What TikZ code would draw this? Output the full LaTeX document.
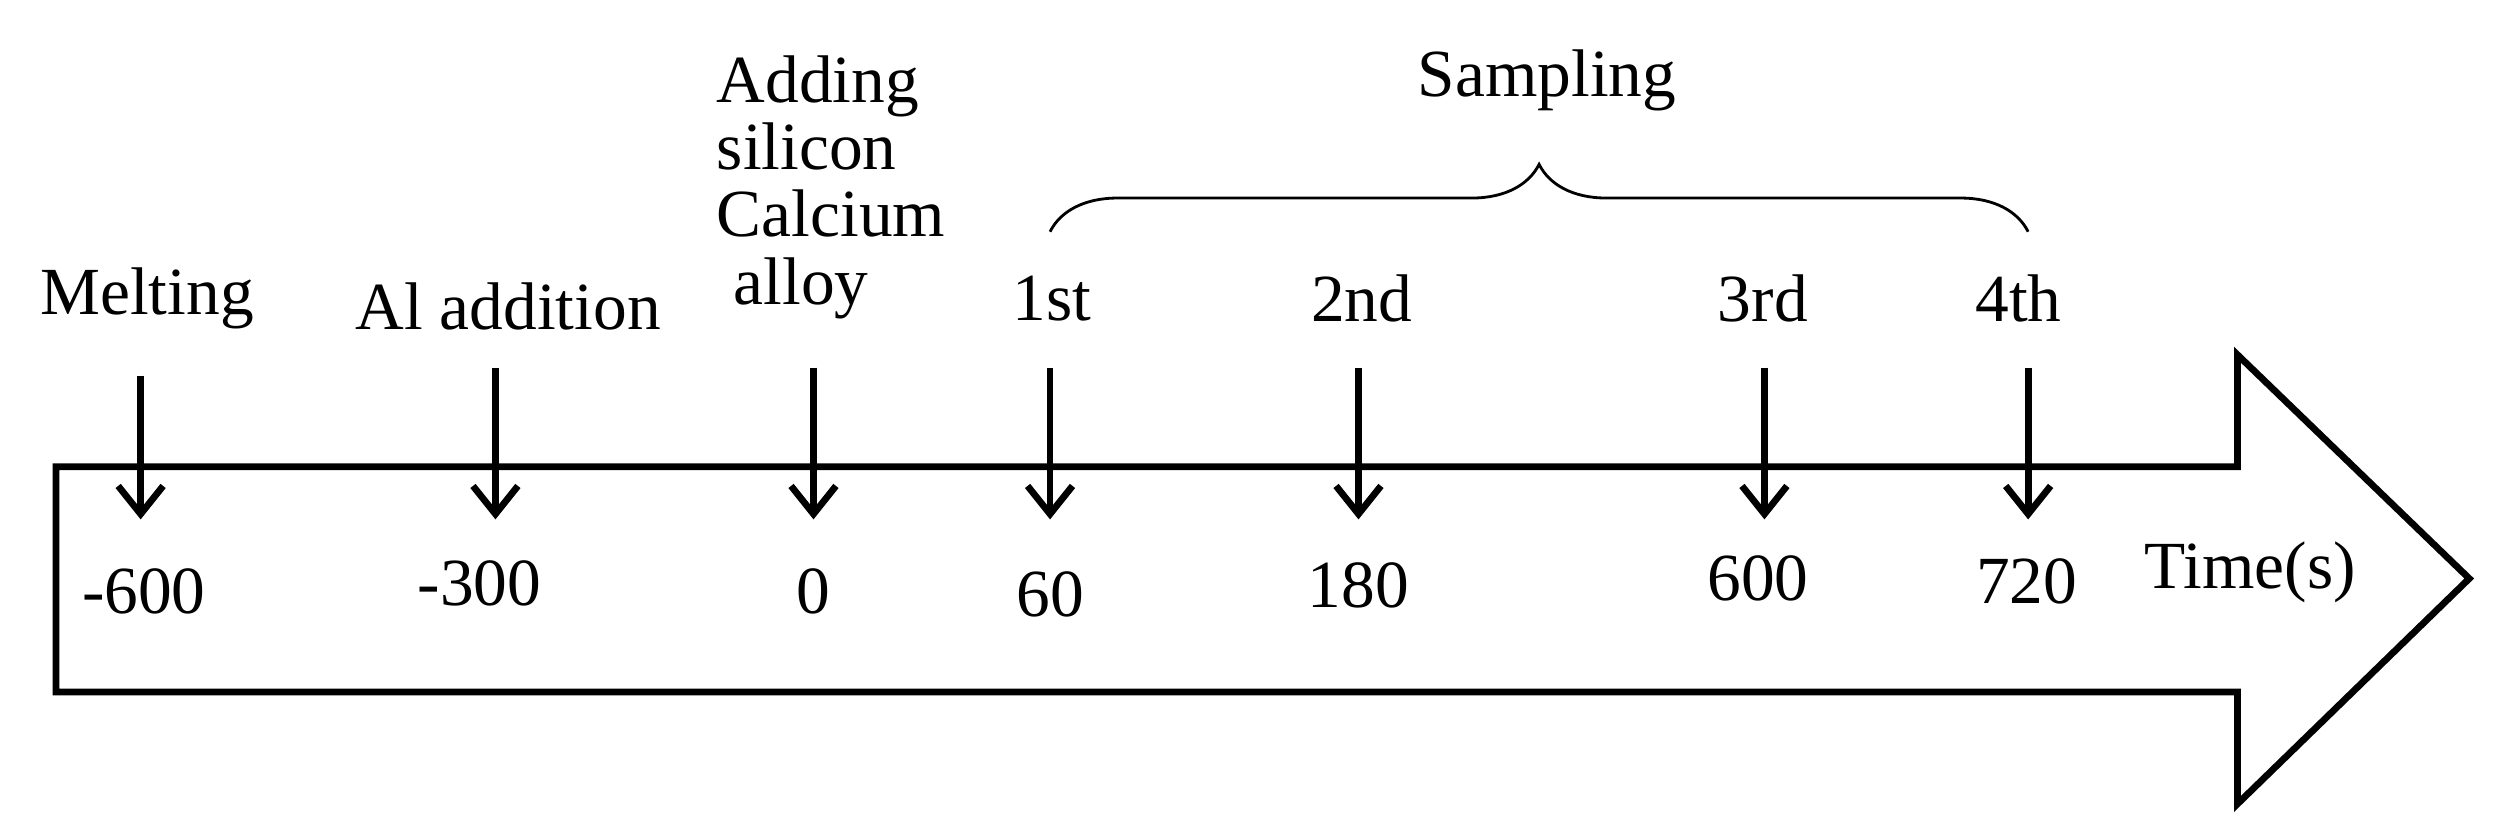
\documentclass[tikz,border=0pt]{standalone}
\usepackage{fontspec}
\setmainfont{Liberation Serif}
\usetikzlibrary{arrows.meta,decorations.pathreplacing}
\begin{document}
\begin{tikzpicture}[x=0.02cm,y=-0.02cm,
  lbl/.style={font=\fontsize{24}{27}\selectfont,inner sep=0pt},
  down/.style={line width=2.4pt,-{Straight Barb[length=10pt,width=16pt,line width=2.4pt]}}]
\useasboundingbox (0,0) rectangle (1568,520);
\draw[line width=2.4pt,line join=miter] (35,292) -- (1400,292) -- (1400,222) -- (1545,362) -- (1400,503) -- (1400,433) -- (35,433) -- cycle;
\foreach \n/\x/\t/\lab/\lx/\ly/\num/\nx/\ny in {
 m/88/235/Melting/92/187/-600/90/370,
 a/310/230/Al addition/318/192/-300/300/365,
 s/509/230/{}/512/190/0/509/370,
 f/657/230/1st/658/187/60/657/372,
 b/850/230/2nd/852/187/180/850/366,
 c/1104/230/3rd/1103/187/600/1100/362,
 d/1269/230/4th/1263/187/720/1268/364}{
  \coordinate (t\n) at (\x,\t);
  \coordinate (e\n) at (\x,325);
  \draw[down] (t\n) -- (e\n);
  \node[lbl] (l\n) at (\lx,\ly) {\lab};
  \node[lbl] (n\n) at (\nx,\ny) {\num};
}
\node[lbl,align=left] (add) at (520,117) {Adding\\[-3pt]silicon\\[-3pt]Calcium\\[-3pt]\ alloy};
\node[lbl] (time) at (1408,358) {Time(s)};
\coordinate (bl) at (657,145);
\coordinate (br) at (1269,145);
\draw[line width=1pt,decorate,decoration={brace,amplitude=24pt,aspect=0.5}] (bl) -- (br);
\node[lbl] (samp) at (968,50) {Sampling};
\end{tikzpicture}
\end{document}
